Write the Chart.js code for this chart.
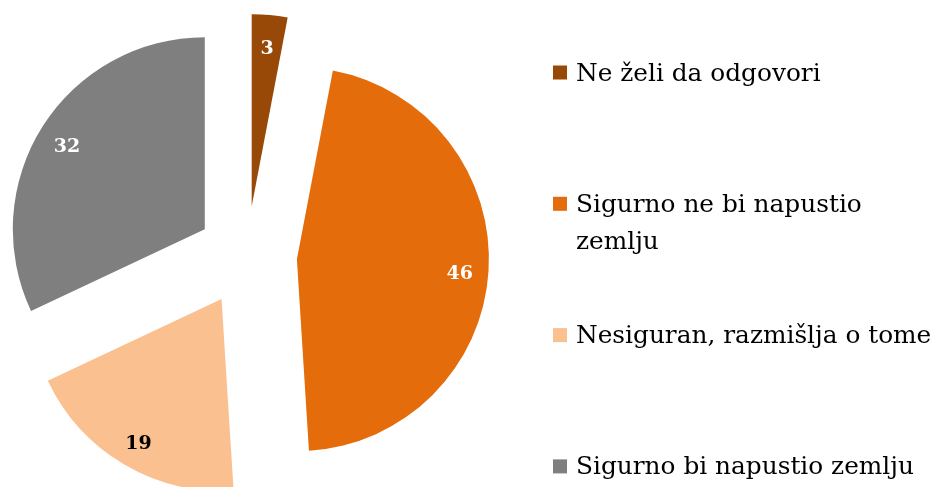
<!DOCTYPE html>
<html>
<head>
<meta charset="utf-8">
<script src="https://cdn.jsdelivr.net/npm/chart.js@4/dist/chart.umd.min.js"></script>
<style>
  body { margin: 0; background: #fff; }
  #wrap { width: 934px; height: 487px; position: relative; }
</style>
</head>
<body>
<div id="wrap"><canvas id="pie"></canvas></div>
<script>
// data
const labels = ["Ne želi da odgovori", "Sigurno ne bi napustio zemlju", "Nesiguran, razmišlja o tome", "Sigurno bi napustio zemlju"];
const values = [3, 46, 19, 32];
const colors = ["#984807", "#E46C0A", "#FAC090", "#7F7F7F"];
const valueColors = ["#ffffff", "#ffffff", "#000000", "#ffffff"];

const EXPLODE = 50;    // how far each slice is pulled out
const RADIUS = 192;

// pull every slice out along its middle angle
const arcDraw = Chart.ArcElement.prototype.draw;
Chart.ArcElement.prototype.draw = function (ctx) {
    const mid = (this.startAngle + this.endAngle) / 2;
    ctx.save();
    ctx.translate(Math.cos(mid) * EXPLODE, Math.sin(mid) * EXPLODE);
    arcDraw.call(this, ctx);
    ctx.restore();
};

// numbers inside the slices
const valueLabels = {
    id: "valueLabels",
    afterDatasetsDraw(chart) {
        const ctx = chart.ctx;
        const meta = chart.getDatasetMeta(0);
        ctx.save();
        ctx.font = "bold 19px 'DejaVu Serif'";
        ctx.textAlign = "center";
        ctx.textBaseline = "middle";
        meta.data.forEach((arc, i) => {
            const p = arc.getProps(["x", "y", "startAngle", "endAngle", "outerRadius"], true);
            const mid = (p.startAngle + p.endAngle) / 2;
            const r = EXPLODE + p.outerRadius * 0.85;
            ctx.fillStyle = valueColors[i];
            // +5: the original used old-style figures which sit lower
            ctx.fillText(values[i], p.x + Math.cos(mid) * r, p.y + Math.sin(mid) * r + 5);
        });
        ctx.restore();
    }
};

// legend on the right, one slot per item, long labels wrap
const sideLegend = {
    id: "sideLegend",
    afterDraw(chart, args, opts) {
        const ctx = chart.ctx;
        const ds = chart.data.datasets[0];
        ctx.save();
        ctx.font = opts.font;
        ctx.textBaseline = "alphabetic";
        ctx.textAlign = "left";
        chart.data.labels.forEach((lab, i) => {
            const cy = opts.top + i * opts.step;
            ctx.fillStyle = ds.backgroundColor[i];
            ctx.fillRect(opts.boxX, cy - opts.box / 2, opts.box, opts.box);
            // wrap words
            const words = lab.split(" ");
            const lines = [];
            let line = "";
            words.forEach(w => {
                const test = line ? line + " " + w : w;
                if (line && ctx.measureText(test).width > opts.maxWidth) {
                    lines.push(line);
                    line = w;
                } else {
                    line = test;
                }
            });
            lines.push(line);
            ctx.fillStyle = "#000000";
            lines.forEach((l, j) => {
                ctx.fillText(l, opts.textX, cy + opts.baseline + j * opts.lineHeight);
            });
        });
        ctx.restore();
    }
};

new Chart("pie", {
    type: "pie",
    data: {
        labels: labels,
        datasets: [{
            data: values,
            backgroundColor: colors,
            borderWidth: 0,
            radius: RADIUS
        }]
    },
    options: {
        responsive: true,
        maintainAspectRatio: false,
        animation: false,
        layout: { padding: { left: 0, right: 440, top: 25, bottom: 0 } },
        plugins: {
            legend: { display: false },
            tooltip: { enabled: false },
            sideLegend: {
                font: "24.8px 'DejaVu Serif'",
                boxX: 553,
                box: 14,
                top: 72.5,
                step: 131.3,
                textX: 576,
                baseline: 8,
                lineHeight: 37,
                maxWidth: 365
            }
        }
    },
    plugins: [valueLabels, sideLegend]
});
</script>
</body>
</html>
